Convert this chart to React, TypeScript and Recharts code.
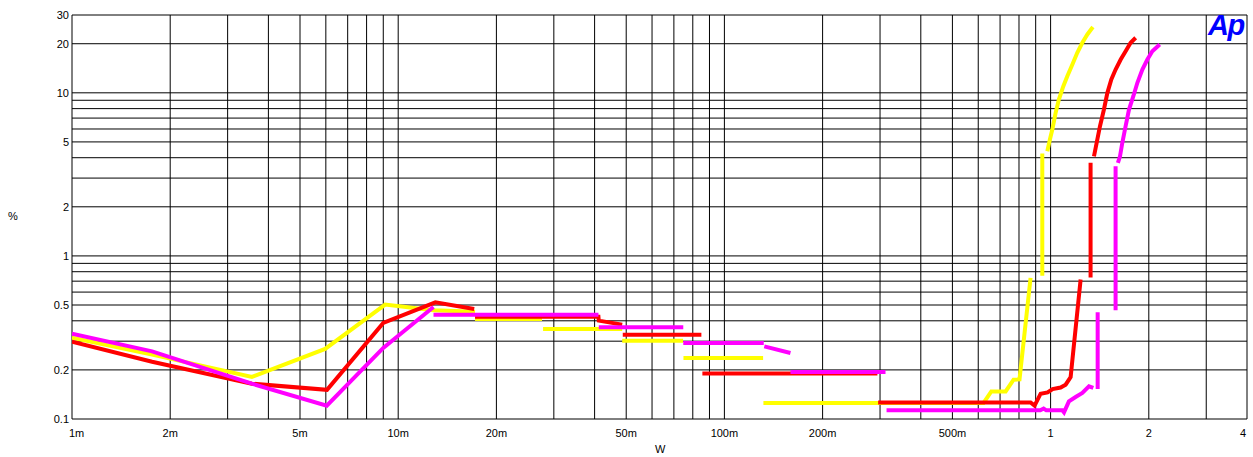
import { LineChart, Line, XAxis, YAxis, CartesianGrid } from 'recharts';

type Pt = [number, number]; // [W, %]

// Each sweep is stored as separate runs; the analyser range changes leave gaps between them.
const yellowRuns: Pt[][] = [
  [[0.001, 0.315], [0.00176, 0.248], [0.00356, 0.181], [0.00597, 0.269], [0.00912, 0.503], [0.0128, 0.464], [0.0172, 0.455]],
  [[0.0172, 0.411], [0.0276, 0.411]],
  [[0.0278, 0.356], [0.0486, 0.356]],
  [[0.0486, 0.302], [0.0747, 0.302]],
  [[0.0749, 0.237], [0.1314, 0.237]],
  [[0.1317, 0.1254], [0.623, 0.1254], [0.658, 0.1476], [0.728, 0.1476], [0.77, 0.1742], [0.803, 0.1752], [0.868, 0.733]],
  [[0.943, 0.757], [0.943, 4.24]],
  [
    [0.977, 4.38], [0.995, 5.17], [1.012, 5.95], [1.036, 7.54], [1.06, 9.1], [1.094, 10.98],
    [1.125, 12.64], [1.166, 14.92], [1.207, 17.6], [1.251, 20.27], [1.296, 22.8], [1.348, 25.3],
  ],
];

const redRuns: Pt[][] = [
  [[0.001, 0.298], [0.00176, 0.2246], [0.00356, 0.1646], [0.00605, 0.151], [0.009, 0.388], [0.013, 0.519], [0.0171, 0.473]],
  [[0.0172, 0.423], [0.0411, 0.423], [0.0412, 0.401], [0.0486, 0.379]],
  [[0.0488, 0.329], [0.085, 0.329]],
  [[0.0856, 0.19], [0.2945, 0.19]],
  [[0.296, 0.1264], [0.868, 0.1264], [0.893, 0.1207], [0.932, 0.143], [0.979, 0.1456], [1.014, 0.1527], [1.073, 0.156], [1.112, 0.1623], [1.152, 0.181], [1.236, 0.716]],
  [[1.326, 0.736], [1.326, 3.72]],
  [
    [1.358, 4.08], [1.384, 4.94], [1.417, 6.24], [1.457, 7.9], [1.493, 10.0], [1.535, 12.07],
    [1.582, 13.9], [1.64, 16.0], [1.698, 18.0], [1.759, 20.27], [1.823, 21.75],
  ],
];

const magentaRuns: Pt[][] = [
  [[0.001, 0.333], [0.00176, 0.26], [0.00356, 0.1646], [0.00604, 0.1207], [0.009, 0.2726], [0.01283, 0.4866]],
  [[0.01283, 0.4364], [0.0411, 0.4364]],
  [[0.0412, 0.3648], [0.0748, 0.3648]],
  [[0.0748, 0.2927], [0.132, 0.2927]],
  [[0.1325, 0.279], [0.1594, 0.254]],
  [[0.1594, 0.1943], [0.3118, 0.1943]],
  [[0.3141, 0.113], [0.93, 0.113], [0.952, 0.116], [0.97, 0.113], [1.086, 0.113], [1.099, 0.1098], [1.138, 0.1283], [1.193, 0.1365], [1.251, 0.1444], [1.311, 0.1585], [1.352, 0.155]],
  [[1.394, 0.1527], [1.394, 0.451]],
  [[1.582, 0.4636], [1.582, 3.55]],
  [
    [1.608, 3.72], [1.632, 4.08], [1.659, 4.94], [1.698, 6.24], [1.739, 7.9], [1.793, 9.53],
    [1.845, 11.52], [1.911, 13.9], [1.98, 16.0], [2.05, 18.0], [2.16, 19.8],
  ],
];

const xTicks = [
  0.001, 0.002, 0.003, 0.004, 0.005, 0.006, 0.007, 0.008, 0.009,
  0.01, 0.02, 0.03, 0.04, 0.05, 0.06, 0.07, 0.08, 0.09,
  0.1, 0.2, 0.3, 0.4, 0.5, 0.6, 0.7, 0.8, 0.9,
  1, 2, 3, 4,
];
const xLabels: Record<string, string> = {
  '0.001': '1m', '0.002': '2m', '0.005': '5m',
  '0.01': '10m', '0.02': '20m', '0.05': '50m',
  '0.1': '100m', '0.2': '200m', '0.5': '500m',
  '1': '1', '2': '2', '4': '4',
};

const yTicks = [
  0.1, 0.2, 0.3, 0.4, 0.5, 0.6, 0.7, 0.8, 0.9,
  1, 2, 3, 4, 5, 6, 7, 8, 9,
  10, 20, 30,
];
const yLabels = ['0.1', '0.2', '0.5', '1', '2', '5', '10', '20', '30'];

const FONT = '"Liberation Sans", Arial, sans-serif';

// flatten runs into one row list, with a null row between runs so the line breaks
function toRows(runs: Pt[][]) {
  const rows: { w: number; pct: number | null }[] = [];
  runs.forEach((run, i) => {
    if (i > 0) rows.push({ w: run[0][0], pct: null });
    run.forEach(([w, pct]) => rows.push({ w, pct }));
  });
  return rows;
}

const XTick = (props: any) => {
  const { x, y, payload, index } = props;
  const label = xLabels[String(payload.value)];
  if (!label) return null;
  let anchor: 'start' | 'middle' | 'end' = 'middle';
  let dx = 0;
  if (index === 0) { anchor = 'start'; dx = -3; }
  if (index === xTicks.length - 1) { anchor = 'end'; dx = -1; }
  return (
    <text x={x + dx} y={y} dy="0.71em" textAnchor={anchor} fontSize={11} fontFamily={FONT} fill="#000">
      {label}
    </text>
  );
};

const YTick = (props: any) => {
  const { x, y, payload } = props;
  const label = String(payload.value);
  if (!yLabels.includes(label)) return null;
  return (
    <text x={x} y={y} dy="0.355em" textAnchor="end" fontSize={11} fontFamily={FONT} fill="#000">
      {label}
    </text>
  );
};

export default function App() {
  const series = [
    { name: 'yellow', color: '#FFFF00', rows: toRows(yellowRuns) },
    { name: 'red', color: '#FF0000', rows: toRows(redRuns) },
    { name: 'magenta', color: '#FF00FF', rows: toRows(magentaRuns) },
  ];

  return (
    <div style={{ position: 'absolute', left: 0, top: 0, width: 1253, height: 457, background: '#fff', fontFamily: FONT }}>
      <LineChart width={1253} height={457} margin={{ top: 15, right: 6, bottom: 0, left: 0 }}>
        <CartesianGrid stroke="#000" strokeWidth={1} />
        <XAxis
          dataKey="w"
          type="number"
          scale="log"
          domain={[0.001, 4]}
          allowDataOverflow
          ticks={xTicks}
          interval={0}
          height={38}
          axisLine={false}
          tickLine={false}
          tickSize={0}
          tickMargin={10}
          tick={<XTick />}
        />
        <YAxis
          type="number"
          scale="log"
          domain={[0.1, 30]}
          allowDataOverflow
          ticks={yTicks}
          interval={0}
          width={72}
          axisLine={false}
          tickLine={false}
          tickSize={0}
          tickMargin={3}
          tick={<YTick />}
        />
        {series.map((s) => (
          <Line
            key={s.name}
            data={s.rows}
            dataKey="pct"
            type="linear"
            stroke={s.color}
            strokeWidth={4}
            dot={false}
            activeDot={false}
            connectNulls={false}
            isAnimationActive={false}
          />
        ))}
      </LineChart>
      <div style={{ position: 'absolute', left: 8, top: 210, fontSize: 11 }}>%</div>
      <div style={{ position: 'absolute', left: 655, top: 443, fontSize: 11 }}>W</div>
      <div
        style={{
          position: 'absolute',
          left: 1208,
          top: 11,
          fontSize: 29,
          fontWeight: 'bold',
          fontStyle: 'italic',
          letterSpacing: -1.5,
          color: '#0000FF',
          lineHeight: 1,
        }}
      >
        Ap
      </div>
    </div>
  );
}
